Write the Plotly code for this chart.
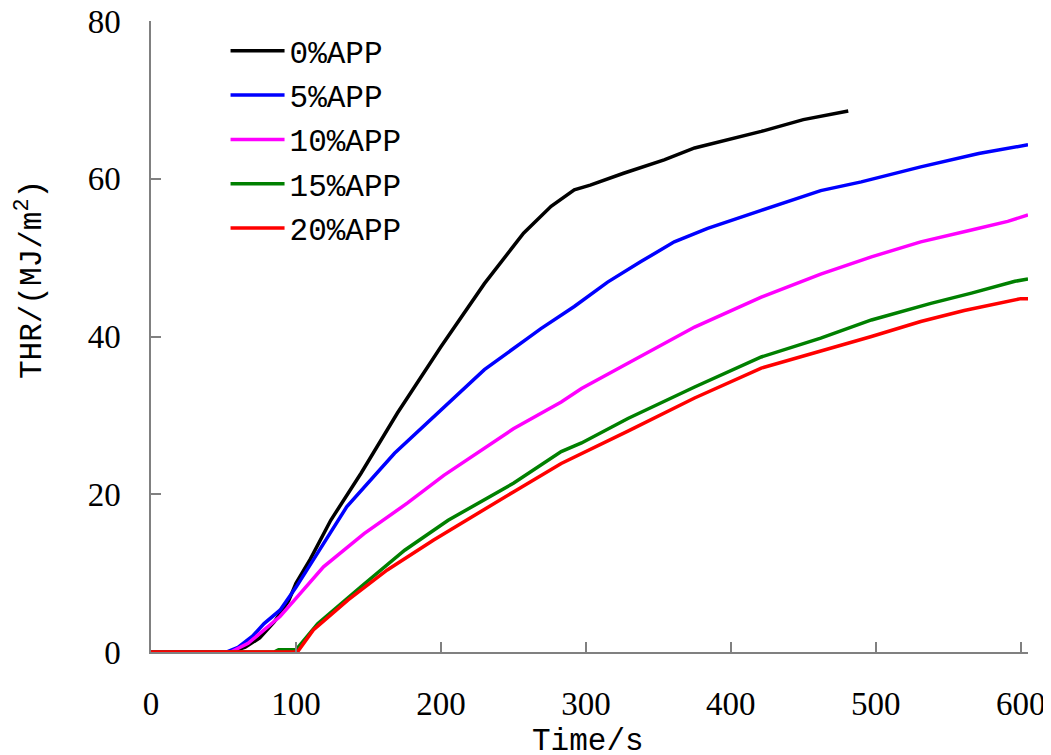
import plotly.graph_objects as go

# ---- data ----
t_0 = [0, 55, 65, 75, 85, 95, 100, 110, 124, 145, 170, 200, 230, 241, 257, 276, 292, 303, 326, 354, 375, 421, 450, 481]
thr_0 = [0, 0, 0.6, 1.8, 3.8, 6.5, 8.7, 11.8, 16.7, 22.7, 30.3, 38.7, 46.7, 49.3, 53.1, 56.5, 58.6, 59.2, 60.7, 62.4, 63.9, 66.0, 67.5, 68.6]

t_5 = [0, 52, 60, 70, 78, 89, 100, 112, 135, 168, 200, 230, 260, 269, 292, 315, 338, 361, 384, 407, 421, 462, 490, 531, 571, 605]
thr_5 = [0, 0, 0.6, 2.0, 3.6, 5.3, 8.2, 11.7, 18.4, 25.2, 30.7, 35.8, 39.8, 41.0, 43.8, 46.9, 49.5, 52.0, 53.7, 55.2, 56.0, 58.5, 59.6, 61.5, 63.2, 64.3]

t_10 = [0, 55, 67, 78, 89, 100, 119, 147, 177, 202, 228, 250, 283, 297, 329, 375, 421, 462, 497, 531, 566, 591, 605]
thr_10 = [0, 0, 1.1, 2.8, 4.5, 6.8, 10.8, 15.0, 18.9, 22.4, 25.6, 28.3, 31.7, 33.4, 36.6, 41.2, 45.0, 47.9, 50.1, 52.0, 53.5, 54.6, 55.4]

t_15 = [0, 85, 88, 100, 101, 115, 145, 175, 205, 250, 283, 297, 329, 375, 421, 462, 497, 538, 566, 596, 605]
thr_15 = [0, 0, 0.3, 0.3, 0.5, 3.6, 8.3, 12.9, 16.7, 21.4, 25.4, 26.5, 29.6, 33.6, 37.4, 39.8, 42.1, 44.2, 45.5, 47.0, 47.3]

t_20 = [0, 101, 112, 136, 163, 195, 250, 283, 329, 375, 421, 462, 497, 531, 561, 600, 605]
thr_20 = [0, 0, 2.8, 6.6, 10.4, 14.2, 20.3, 23.9, 28.0, 32.2, 36.0, 38.1, 40.0, 41.9, 43.3, 44.8, 44.8]

names = ["0%APP", "5%APP", "10%APP", "15%APP", "20%APP"]
colors = ["#000000", "#0000FF", "#FF00FF", "#008000", "#FF0000"]
xs = [t_0, t_5, t_10, t_15, t_20]
ys = [thr_0, thr_5, thr_10, thr_15, thr_20]

x_ticks = [0, 100, 200, 300, 400, 500, 600]
y_ticks = [0, 20, 40, 60, 80]

fig = go.Figure()
for x, y, n, c in zip(xs, ys, names, colors):
    fig.add_trace(go.Scatter(x=x, y=y, mode="lines", name=n, legendgroup=n,
                             line=dict(color=c, width=3.5)))

tick_font = dict(family="Liberation Serif", size=33, color="black")
text_font = dict(family="Liberation Mono", size=31, color="black")

fig.update_layout(
    width=1051, height=755,
    margin=dict(l=143, r=31, t=13, b=111),
    plot_bgcolor="white", paper_bgcolor="white",
    showlegend=True,
    legend=dict(x=0.085, y=0.995, xanchor="left", yanchor="top",
                bgcolor="rgba(0,0,0,0)", font=text_font,
                tracegroupgap=1, itemwidth=54),
    xaxis=dict(range=[0, 605], tickvals=x_ticks, ticks="inside", ticklen=10,
               tickcolor="#808080", tickwidth=1.5, showline=True,
               linecolor="#808080", linewidth=1.5, showgrid=False,
               zeroline=False, tickfont=tick_font, ticklabelstandoff=22,
               automargin=False, ticklabeloverflow="allow"),
    yaxis=dict(range=[0, 80], tickvals=y_ticks, ticks="inside", ticklen=10,
               tickcolor="#808080", tickwidth=1.5, showline=True,
               linecolor="#808080", linewidth=1.5, showgrid=False,
               zeroline=False, tickfont=tick_font, ticklabelstandoff=22,
               automargin=False, ticklabeloverflow="allow"),
    annotations=[
        dict(text="Time/s", xref="paper", yref="paper", x=0.498, y=-0.142,
             xanchor="center", yanchor="middle", showarrow=False, font=text_font),
        dict(text="THR/(MJ/m<sup>2</sup>)", xref="paper", yref="paper",
             x=-0.138, y=0.591, xanchor="center", yanchor="middle",
             textangle=-90, showarrow=False, font=text_font),
    ],
)

fig.write_html("out.html")
